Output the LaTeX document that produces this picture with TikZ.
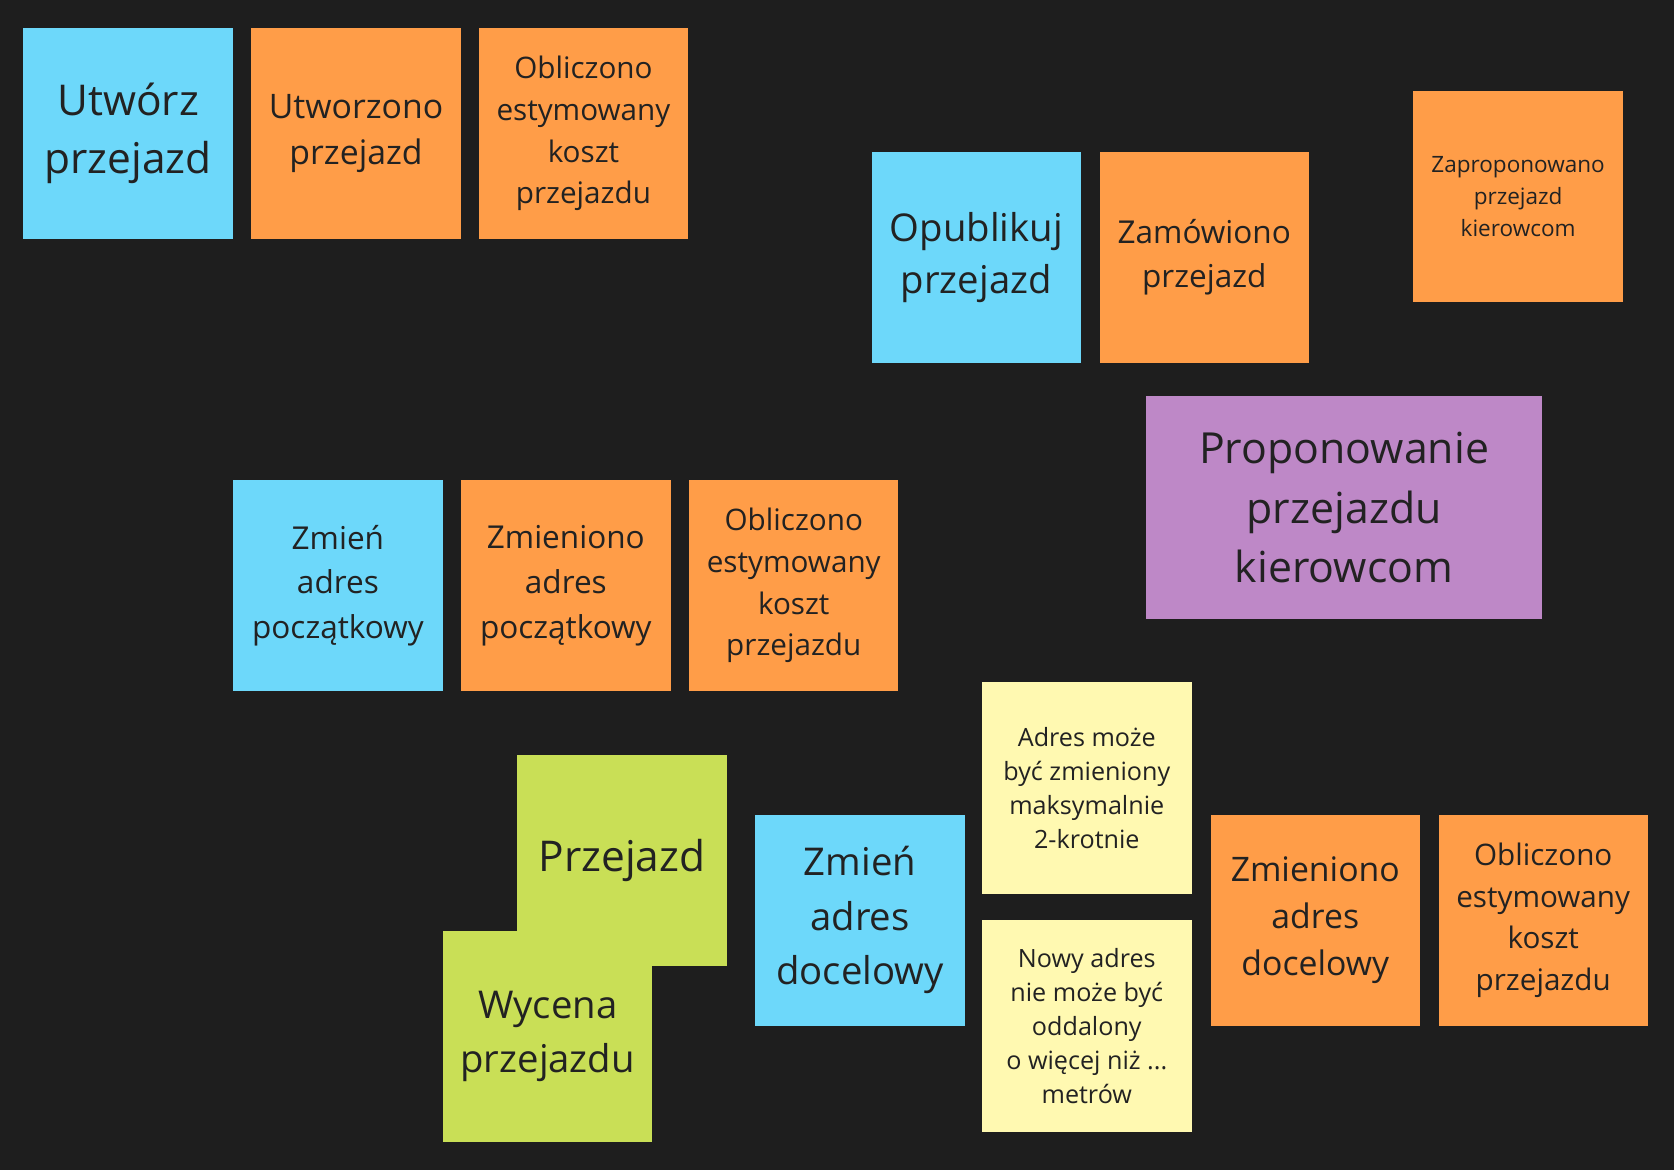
\documentclass[tikz,border=0pt]{standalone}
\usepackage{fontspec}
\setmainfont{Open Sans}
\definecolor{board}{HTML}{1E1E1E}
\definecolor{cmdblue}{HTML}{6DD8FA}
\definecolor{evtorange}{HTML}{FF9D48}
\definecolor{polpurple}{HTML}{BE88C7}
\definecolor{agggreen}{HTML}{C9DF56}
\definecolor{noteyellow}{HTML}{FFF9B1}
\definecolor{ink}{HTML}{222222}

\begin{document}
\begin{tikzpicture}[x=0.01cm,y=-0.01cm,
      sticky/.style={inner sep=0pt,minimum width=1.96cm,minimum height=1.98cm,
        align=center,text=ink},
      command/.style={sticky,fill=cmdblue},
      event/.style={sticky,fill=evtorange},
      policy/.style={sticky,fill=polpurple,minimum width=3.7cm,minimum height=2.09cm},
      aggregate/.style={sticky,fill=agggreen},
      rule/.style={sticky,fill=noteyellow},
      fs/.style 2 args={font=\fontsize{#1}{#2}\selectfont}]
      \fill[board](0,0)rectangle(1568,1096);
      \useasboundingbox(0,0)rectangle(1568,1096);
      % tworzenie przejazdu
      \node[command,fs={11.3}{15.6}](utworz)at(120,125){Utwórz\\przejazd};
      \node[event,fs={9}{12.5}](utworzono)at(333.5,125){Utworzono\\przejazd};
      \node[event,fs={7.9}{11.1}](koszt1)at(546.5,125){Obliczono\\estymowany\\koszt\\przejazdu};
      % publikacja
      \node[command,fs={10.2}{13.9}](opublikuj)at(914.5,241){Opublikuj\\przejazd};
      \node[event,fs={8.4}{11.9}](zamowiono)at(1128,241){Zamówiono\\przejazd};
      \node[event,fs={6}{8.5}](zaproponowano)at(1422,184){Zaproponowano\\przejazd\\kierowcom};
      \node[policy,fs={11.4}{15.9}](proponowanie)at(1259,475.5){Proponowanie\\przejazdu\\kierowcom};
      % adres poczatkowy
      \node[command,fs={8.4}{11.9}](zmienpocz)at(316.5,548.5){Zmień\\adres\\początkowy};
      \node[event,fs={8.4}{11.9}](zmienionopocz)at(530,548.5){Zmieniono\\adres\\początkowy};
      \node[event,fs={7.9}{11.1}](koszt2)at(743.5,548.5){Obliczono\\estymowany\\koszt\\przejazdu};
      % adres docelowy
      \node[aggregate,fs={11.3}{15.6}](przejazd)at(582.5,806){Przejazd};
      \node[aggregate,fs={10.2}{14.5}](wycena)at(513,971){Wycena\\przejazdu};
      \node[command,fs={10.2}{14.5}](zmiendoc)at(805.5,862){Zmień\\adres\\docelowy};
      \node[rule,fs={6.7}{9.1}](limit)at(1018,738){Adres może\\być zmieniony\\maksymalnie\\2-krotnie};
      \node[rule,fs={6.7}{9.1}](odleglosc)at(1018,961){Nowy adres\\nie może być\\oddalony\\o więcej niż ...\\metrów};
      \node[event,fs={9}{12.5}](zmienionodoc)at(1232,862){Zmieniono\\adres\\docelowy};
      \node[event,fs={7.9}{11.1}](koszt3)at(1445.5,862){Obliczono\\estymowany\\koszt\\przejazdu};
    \end{tikzpicture}
\end{document}
